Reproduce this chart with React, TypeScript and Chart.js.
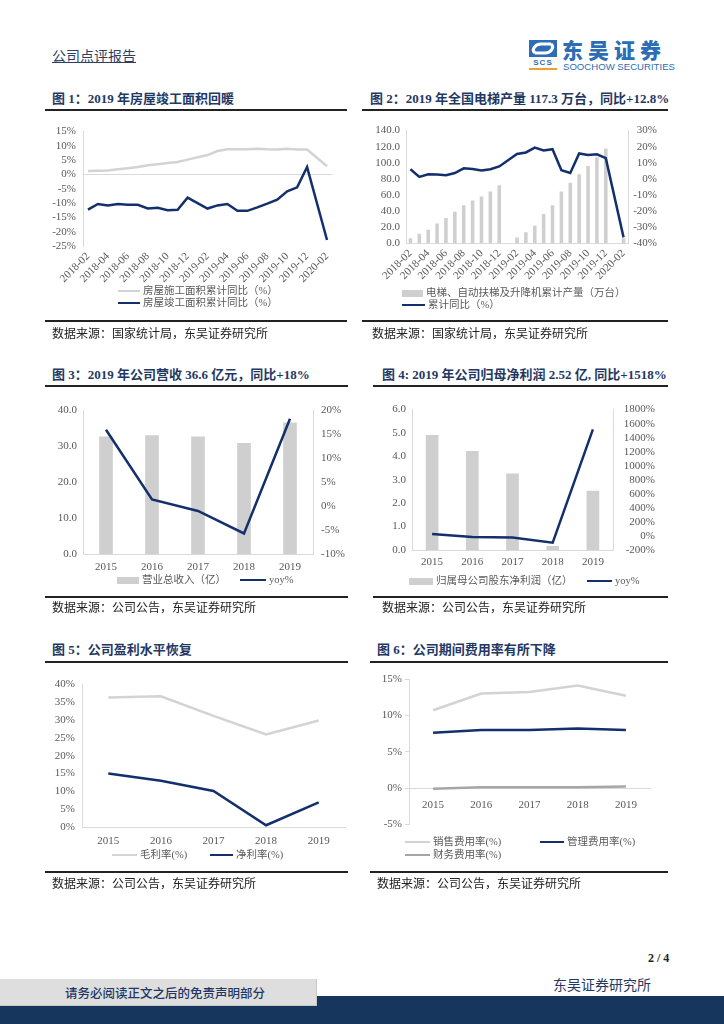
import React, { useEffect, useRef } from 'react';
import { Chart, registerables } from 'chart.js';

Chart.register(...registerables);

// ---------- data ----------
const months = [
  '2018-02', '2018-03', '2018-04', '2018-05', '2018-06', '2018-07', '2018-08', '2018-09', '2018-10', '2018-11', '2018-12',
  '2019-01', '2019-02', '2019-03', '2019-04', '2019-05', '2019-06', '2019-07', '2019-08', '2019-09', '2019-10', '2019-11', '2019-12',
  '2020-01', '2020-02',
];
const constructionYoY = [1.2, 1.3, 1.4, 1.8, 2.2, 2.6, 3.2, 3.6, 4.0, 4.4, 5.2, null, 6.8, 8.2, 8.8, 8.8, 8.8, 9.0, 8.8, 8.7, 9.0, 8.7, 8.7, null, 2.9];
const completionYoY = [-12.3, -10.3, -10.8, -10.3, -10.6, -10.6, -11.9, -11.6, -12.5, -12.3, -8.1, null, -11.9, -10.8, -10.3, -12.7, -12.7, -11.5, -10.2, -8.8, -5.9, -4.5, 2.6, null, -22.9];

const elevatorOutput = [6, 11.4, 16.6, 24.4, 31, 39, 47, 53, 58, 64, 71.8, null, 6.9, 13.4, 21.5, 36, 47, 64, 75, 85.6, 95.8, 106.7, 117.3, null, 6];
const elevatorYoY = [5.9, 1.2, 2.8, 2.6, 2.2, 3.6, 6.5, 6.1, 5.1, 5.9, 7.7, null, 15.4, 16.4, 19.4, 17.6, 18.4, 5.3, 3.6, 15.8, 14.8, 15.2, 12.8, null, -36.5];

const years = ['2015', '2016', '2017', '2018', '2019'];
const revenue = [32.7, 33.0, 32.7, 30.9, 36.6];
const revenueYoY = [16.0, 1.4, -1.0, -5.7, 18.3];
const netProfit = [4.9, 4.22, 3.26, 0.16, 2.52];
const netProfitYoY = [28, -14, -23, -95, 1518];
const grossMargin = [36.4, 36.7, 31.2, 26.0, 29.9];
const netMargin = [15.0, 13.0, 10.1, 0.5, 6.9];
const sellingRate = [10.7, 13.0, 13.2, 14.1, 12.7];
const adminRate = [7.6, 8.0, 8.0, 8.2, 8.0];
const financeRate = [-0.1, 0.1, 0.1, 0.1, 0.2];

// ---------- style ----------
const NAVY = '#13306c';
const LIGHT = '#d3d3d3';
const MID = '#a6a6a6';
const BAR = '#cfcfcf';
const AXIS = '#d9d9d9';
const TICK = '#595959';
const TITLE = '#1f3864';
const SERIF = "'Liberation Serif', 'Times New Roman', 'Noto Sans CJK SC', serif";
const CJK = "'Liberation Serif', 'Noto Sans CJK SC', serif";
const TICK_FONT = { family: SERIF, size: 11 };

const fixW = (w: number) => (s: any) => { s.width = w; };
const fixH = (h: number) => (s: any) => { s.height = h; };
const pct = (v: any) => v + '%';
const one = (v: any) => Number(v).toFixed(1);

const base = (padding: any) => ({
  animation: false as const,
  responsive: false,
  layout: { padding },
  plugins: { legend: { display: false }, tooltip: { enabled: false } },
});

function lineDs(label: string, data: any[], color: string, extra: any = {}) {
  return { type: 'line', label, data, borderColor: color, backgroundColor: color, borderWidth: 2.5, pointRadius: 0, tension: 0, spanGaps: true, ...extra };
}

const monthTicks = {
  autoSkip: false, maxRotation: 45, minRotation: 45, font: TICK_FONT, color: TICK, padding: 4,
  callback: (_v: any, i: number) => (i % 2 === 0 ? months[i] : ''),
};

function yAxis(min: number, max: number, step: number, cb: any, width: number, pos: string, extra: any = {}) {
  return {
    position: pos, min, max,
    ticks: { stepSize: step, autoSkip: false, callback: cb, font: TICK_FONT, color: TICK, padding: 6, ...(extra.ticks || {}) },
    grid: { display: false, drawTicks: false, ...(extra.grid || {}) },
    border: { display: true, color: AXIS },
    afterFit: fixW(width),
  };
}

const cfg1 = () => ({
  type: 'line',
  data: {
    labels: months,
    datasets: [
      lineDs('房屋竣工面积累计同比（%）', completionYoY, NAVY, { order: 0 }),
      lineDs('房屋施工面积累计同比（%）', constructionYoY, LIGHT, { order: 1 }),
    ],
  },
  options: {
    ...base({ top: 10, right: 18, left: 0, bottom: 0 }),
    scales: {
      x: { offset: true, grid: { display: false, drawTicks: false }, border: { display: false }, ticks: monthTicks, afterFit: fixH(44) },
      y: yAxis(-25, 15, 5, pct, 43, 'left', {
        grid: { display: true, drawTicks: false, color: (c: any) => (c.tick && c.tick.value === 0 ? AXIS : 'rgba(0,0,0,0)') },
        ticks: { padding: 7 },
      }),
    },
  },
});

const cfg2 = () => ({
  type: 'bar',
  data: {
    labels: months,
    datasets: [
      lineDs('累计同比（%）', elevatorYoY, NAVY, { yAxisID: 'y1', order: 0 }),
      { type: 'bar', label: '电梯、自动扶梯及升降机累计产量（万台）', data: elevatorOutput, yAxisID: 'y', backgroundColor: BAR, barPercentage: 0.4, categoryPercentage: 1, order: 1 },
    ],
  },
  options: {
    ...base({ top: 10, right: 13, left: 0, bottom: 0 }),
    scales: {
      x: { grid: { display: false, drawTicks: false }, border: { display: true, color: AXIS }, ticks: monthTicks, afterFit: fixH(47) },
      y: yAxis(0, 140, 20, one, 41, 'left'),
      y1: yAxis(-40, 30, 10, pct, 29, 'right', { ticks: { crossAlign: 'far', padding: 5 } }),
    },
  },
});

const yearX = (h: number, pad = 7) => ({
  grid: { display: false, drawTicks: false }, border: { display: true, color: AXIS },
  ticks: { font: TICK_FONT, color: TICK, padding: pad }, afterFit: fixH(h),
});

const cfg3 = () => ({
  type: 'bar',
  data: {
    labels: years,
    datasets: [
      lineDs('yoy%', revenueYoY, NAVY, { yAxisID: 'y1', order: 0 }),
      { type: 'bar', label: '营业总收入（亿）', data: revenue, yAxisID: 'y', backgroundColor: BAR, barThickness: 13, order: 1 },
    ],
  },
  options: {
    ...base({ top: 10, right: 0, left: 0, bottom: 0 }),
    scales: {
      x: yearX(22, 7),
      y: yAxis(0, 40, 10, one, 38, 'left'),
      y1: yAxis(-10, 20, 5, pct, 37, 'right', { ticks: { padding: 8 } }),
    },
  },
});

const cfg4 = () => ({
  type: 'bar',
  data: {
    labels: years,
    datasets: [
      lineDs('yoy%', netProfitYoY, NAVY, { yAxisID: 'y1', order: 0 }),
      { type: 'bar', label: '归属母公司股东净利润（亿）', data: netProfit, yAxisID: 'y', backgroundColor: BAR, barThickness: 12, order: 1 },
    ],
  },
  options: {
    ...base({ top: 10, right: 10, left: 0, bottom: 0 }),
    scales: {
      x: yearX(27, 6),
      y: yAxis(0, 6, 1, one, 37, 'left'),
      y1: yAxis(-200, 1800, 200, pct, 42, 'right', { ticks: { crossAlign: 'far', padding: 4 } }),
    },
  },
});

const cfg5 = () => ({
  type: 'line',
  data: {
    labels: years,
    datasets: [
      lineDs('净利率(%)', netMargin, NAVY, { order: 0 }),
      lineDs('毛利率(%)', grossMargin, LIGHT, { order: 1 }),
    ],
  },
  options: {
    ...base({ top: 10, right: 5, left: 0, bottom: 0 }),
    scales: {
      x: { offset: true, ...yearX(24, 8) },
      y: yAxis(0, 40, 5, pct, 37, 'left', { ticks: { padding: 7 } }),
    },
  },
});

const cfg6 = () => ({
  type: 'line',
  data: {
    labels: years,
    datasets: [
      lineDs('管理费用率(%)', adminRate, NAVY, { order: 0 }),
      lineDs('财务费用率(%)', financeRate, MID, { order: 1 }),
      lineDs('销售费用率(%)', sellingRate, LIGHT, { order: 2 }),
    ],
  },
  options: {
    ...base({ top: 10, right: 12, left: 0, bottom: 0 }),
    scales: {
      x: {
        offset: true, position: { y: 0 },
        grid: { display: false, drawTicks: false }, border: { display: true, color: AXIS },
        ticks: { font: TICK_FONT, color: TICK, padding: 10 }, afterFit: fixH(5),
      },
      y: yAxis(-5, 15, 5, pct, 37, 'left', {
        grid: { display: true, drawOnChartArea: false, drawTicks: true, tickLength: 4, color: AXIS },
        ticks: { padding: 3 },
      }),
    },
  },
});

// ---------- components ----------
function ChartBox({ left, top, width, height, make }: any) {
  const ref = useRef<HTMLCanvasElement>(null);
  useEffect(() => {
    const chart = new Chart(ref.current as HTMLCanvasElement, make() as any);
    return () => chart.destroy();
  }, []);
  return (
    <canvas ref={ref} width={width} height={height}
      style={{ position: 'absolute', left, top, width, height }} />
  );
}

type LegItem = { x: number; y: number; w: number; kind: 'line' | 'rect'; color: string; text: string };

function Legend({ items }: { items: LegItem[] }) {
  return (
    <>
      {items.map((it, i) => (
        <React.Fragment key={i}>
          <div style={{
            position: 'absolute', left: it.x, top: it.y - (it.kind === 'rect' ? 3.5 : 1.25),
            width: it.w, height: it.kind === 'rect' ? 7 : 2.5, background: it.color,
          }} />
          <div style={{
            position: 'absolute', left: it.x + it.w + 3, top: it.y - 8, height: 16, lineHeight: '16px',
            fontFamily: CJK, fontSize: 10.5, color: TICK, whiteSpace: 'nowrap',
          }}>{it.text}</div>
        </React.Fragment>
      ))}
    </>
  );
}

function Abs({ x, y, children, style }: any) {
  return <div style={{ position: 'absolute', left: x, top: y, whiteSpace: 'nowrap', ...style }}>{children}</div>;
}

function Rule({ x1, x2, y, h = 1.5 }: any) {
  return <div style={{ position: 'absolute', left: x1, top: y - h / 2, width: x2 - x1, height: h, background: '#222' }} />;
}

function Title({ x, y, text }: any) {
  return (
    <Abs x={x} y={y - 9} style={{ fontFamily: CJK, fontWeight: 700, fontSize: 13, lineHeight: '18px', color: TITLE }}>{text}</Abs>
  );
}

function Source({ x, y, text }: any) {
  return (
    <Abs x={x} y={y - 8} style={{ fontFamily: CJK, fontSize: 12, lineHeight: '16px', color: '#222' }}>{text}</Abs>
  );
}

function Logo() {
  return (
    <>
      <svg style={{ position: 'absolute', left: 529, top: 40 }} width={30} height={32} viewBox="0 0 30 32">
        <rect x={0} y={0} width={28} height={17} fill="#2c6db5" />
        <path d="M6 13 C2 10 6 4 12 4 L22 4 M22 4 C26 7 22 13 16 13 L6 13" stroke="#fff" strokeWidth={3} fill="none" />
        <text x={14} y={25} textAnchor="middle" fontFamily="'Liberation Sans', Arial" fontWeight={700} fontSize={8} fill="#2c6db5" letterSpacing={1}>SCS</text>
        <rect x={0} y={28} width={28} height={2} fill="#f0a030" />
      </svg>
      <Abs x={562} y={36} style={{ fontFamily: "'Noto Sans CJK SC'", fontWeight: 900, fontSize: 21, lineHeight: '26px', letterSpacing: 5, color: '#2c6db5' }}>东吴证券</Abs>
      <Abs x={563} y={61} style={{ fontFamily: "'Liberation Sans', Arial", fontSize: 9.6, lineHeight: '12px', color: '#2c6db5' }}>SOOCHOW SECURITIES</Abs>
    </>
  );
}

export default function App() {
  return (
    <div style={{ position: 'absolute', left: 0, top: 0, width: 724, height: 1024, overflow: 'hidden', background: '#fff' }}>
      {/* header */}
      <Abs x={52} y={46} style={{ fontFamily: "'Noto Sans CJK SC'", fontSize: 14, lineHeight: '18px', color: '#2f3f63', textDecoration: 'underline' }}>公司点评报告</Abs>
      <Logo />

      {/* row 1 */}
      <Title x={52} y={99} text="图 1：2019 年房屋竣工面积回暖" />
      <Rule x1={45} x2={347} y={110} />
      <Title x={370} y={99} text="图 2：2019 年全国电梯产量 117.3 万台，同比+12.8%" />
      <Rule x1={362} x2={668} y={110} />
      <ChartBox left={40} top={118} width={310} height={172} make={cfg1} />
      <ChartBox left={365} top={118} width={305} height={172} make={cfg2} />
      <Legend items={[
        { x: 118, y: 291, w: 22, kind: 'line', color: LIGHT, text: '房屋施工面积累计同比（%）' },
        { x: 118, y: 303, w: 22, kind: 'line', color: NAVY, text: '房屋竣工面积累计同比（%）' },
        { x: 402, y: 293, w: 21, kind: 'rect', color: BAR, text: '电梯、自动扶梯及升降机累计产量（万台）' },
        { x: 402, y: 305, w: 23, kind: 'line', color: NAVY, text: '累计同比（%）' },
      ]} />
      <Rule x1={45} x2={347} y={321} />
      <Rule x1={362} x2={668} y={321} />
      <Source x={52} y={334} text="数据来源：国家统计局，东吴证券研究所" />
      <Source x={372} y={334} text="数据来源：国家统计局，东吴证券研究所" />

      {/* row 2 */}
      <Title x={52} y={375} text="图 3：2019 年公司营收 36.6 亿元，同比+18%" />
      <Rule x1={45} x2={348} y={386} />
      <Title x={382} y={375} text="图 4: 2019 年公司归母净利润 2.52 亿, 同比+1518%" />
      <Rule x1={373} x2={668} y={386} />
      <ChartBox left={45} top={396} width={305} height={180} make={cfg3} />
      <ChartBox left={375} top={397} width={290} height={180} make={cfg4} />
      <Legend items={[
        { x: 117, y: 580, w: 22, kind: 'rect', color: BAR, text: '营业总收入（亿）' },
        { x: 240, y: 580, w: 26, kind: 'line', color: NAVY, text: 'yoy%' },
        { x: 409, y: 581, w: 24, kind: 'rect', color: BAR, text: '归属母公司股东净利润（亿）' },
        { x: 587, y: 581, w: 25, kind: 'line', color: NAVY, text: 'yoy%' },
      ]} />
      <Rule x1={45} x2={348} y={597} />
      <Rule x1={373} x2={668} y={597} />
      <Source x={52} y={608} text="数据来源：公司公告，东吴证券研究所" />
      <Source x={382} y={608} text="数据来源：公司公告，东吴证券研究所" />

      {/* row 3 */}
      <Title x={52} y={650} text="图 5：公司盈利水平恢复" />
      <Rule x1={45} x2={348} y={662} />
      <Title x={377} y={650} text="图 6：公司期间费用率有所下降" />
      <Rule x1={370} x2={668} y={662} />
      <ChartBox left={45} top={671} width={305} height={180} make={cfg5} />
      <ChartBox left={372} top={669} width={290} height={165} make={cfg6} />
      <Legend items={[
        { x: 112, y: 855, w: 25, kind: 'line', color: LIGHT, text: '毛利率(%)' },
        { x: 210, y: 855, w: 23, kind: 'line', color: NAVY, text: '净利率(%)' },
        { x: 405, y: 842, w: 25, kind: 'line', color: LIGHT, text: '销售费用率(%)' },
        { x: 540, y: 842, w: 24, kind: 'line', color: NAVY, text: '管理费用率(%)' },
        { x: 405, y: 855, w: 25, kind: 'line', color: MID, text: '财务费用率(%)' },
      ]} />
      <Rule x1={45} x2={348} y={872} />
      <Rule x1={370} x2={668} y={872} />
      <Source x={52} y={884} text="数据来源：公司公告，东吴证券研究所" />
      <Source x={377} y={884} text="数据来源：公司公告，东吴证券研究所" />

      {/* footer */}
      <Abs x={648} y={950} style={{ fontFamily: SERIF, fontWeight: 700, fontSize: 12, lineHeight: '16px', color: '#222' }}>2 / 4</Abs>
      <Abs x={553} y={975} style={{ fontFamily: "'Noto Sans CJK SC'", fontSize: 14, lineHeight: '18px', color: '#1f3864' }}>东吴证券研究所</Abs>
      <div style={{ position: 'absolute', left: 0, top: 996, width: 724, height: 28, background: '#17365d' }} />
      <div style={{ position: 'absolute', left: 0, top: 979, width: 316, height: 26, background: '#dedede', borderRight: '1px solid #c8c8c8', borderBottom: '1px solid #c8c8c8' }} />
      <Abs x={65} y={985} style={{ fontFamily: "'Noto Sans CJK SC'", fontSize: 12.5, lineHeight: '16px', color: '#1f3864', fontWeight: 500 }}>请务必阅读正文之后的免责声明部分</Abs>
    </div>
  );
}
